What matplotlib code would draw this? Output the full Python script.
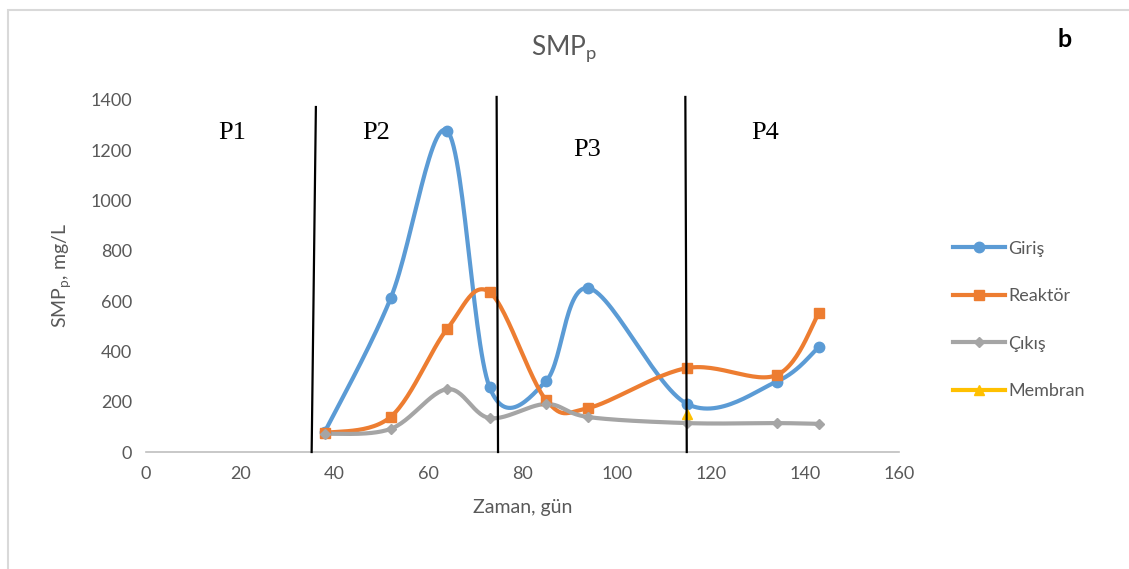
import numpy as np
import matplotlib.pyplot as plt
from matplotlib.patches import Rectangle

plt.rcParams['font.family'] = ['Lato', 'DejaVu Sans']

# Data (days, SMPp in mg/L)
gun = [38, 52, 64, 73, 85, 94, 115, 134, 143]
giris = [80, 612, 1277, 258, 282, 652, 191, 280, 418]
reaktor = [75, 140, 490, 636, 207, 175, 334, 306, 553]
cikis = [72, 92, 250, 135, 191, 139, 115, 115, 112]
membran_gun = [115]
membran = [150]

# Period boundaries (top x, bottom x, top y) and labels
sinir_ust = [36.1, 74.5, 114.6]
sinir_alt = [35.2, 74.8, 114.9]
sinir_y = [1372, 1412, 1412]
donemler = ['P1', 'P2', 'P3', 'P4']
donem_x = [18.3, 49.0, 93.7, 131.5]
donem_y = [1270, 1270, 1200, 1270]


def smooth(x, y, n=30):
    # Bezier smoothing through every point, like spreadsheet "smoothed line"
    x = np.asarray(x, float)
    y = np.asarray(y, float)
    px = np.concatenate([[x[0]], x, [x[-1]]])
    py = np.concatenate([[y[0]], y, [y[-1]]])
    xs, ys = [], []
    t = np.linspace(0, 1, n)
    for i in range(1, len(px) - 2):
        p0 = np.array([px[i], py[i]])
        p3 = np.array([px[i + 1], py[i + 1]])
        c1 = p0 + (np.array([px[i + 1], py[i + 1]]) - np.array([px[i - 1], py[i - 1]])) / 6
        c2 = p3 - (np.array([px[i + 2], py[i + 2]]) - np.array([px[i], py[i]])) / 6
        b = ((1 - t) ** 3)[:, None] * p0 + (3 * (1 - t) ** 2 * t)[:, None] * c1 \
            + (3 * (1 - t) * t ** 2)[:, None] * c2 + (t ** 3)[:, None] * p3
        xs.extend(b[:, 0])
        ys.extend(b[:, 1])
    return xs, ys


fig = plt.figure(figsize=(11.29, 5.69), dpi=100)
fig.patches.append(Rectangle((0.007, -0.02), 1.02, 1.002, transform=fig.transFigure,
                             fill=False, edgecolor='#d9d9d9', lw=1.5))
ax = fig.add_axes([0.1293, 0.2056, 0.667, 0.6187])

seriler = [
    ('Giriş', gun, giris, '#5b9bd5', 'o', 7.5),
    ('Reaktör', gun, reaktor, '#ed7d31', 's', 7),
    ('Çıkış', gun, cikis, '#a5a5a5', 'D', 5),
    ('Membran', membran_gun, membran, '#ffc000', '^', 7),
]
for ad, x, y, renk, mk, ms in seriler:
    sx, sy = smooth(x, y)
    ax.plot(sx, sy, color=renk, lw=3, solid_capstyle='round', zorder=3)
    ax.plot(x, y, ls='none', marker=mk, color=renk, ms=ms, zorder=4)
    ax.plot([], [], color=renk, lw=3, marker=mk, ms=ms, label=ad)

for xu, xa, yu in zip(sinir_ust, sinir_alt, sinir_y):
    ax.plot([xu, xa], [yu, 0], color='black', lw=1.6, zorder=5, clip_on=False)

for ad, x, y in zip(donemler, donem_x, donem_y):
    ax.text(x, y, ad, family='Liberation Serif', fontsize=19, ha='center', va='center')

ax.set_xlim(0, 160)
ax.set_ylim(0, 1400)
ax.set_xticks(range(0, 161, 20))
ax.set_yticks(range(0, 1401, 200))
for s in ['top', 'right', 'left']:
    ax.spines[s].set_visible(False)
ax.spines['bottom'].set_color('#bfbfbf')
ax.spines['bottom'].set_linewidth(1.2)
ax.tick_params(length=0, labelsize=13, colors='#595959', pad=10)

ax.set_xlabel('Zaman, gün', fontsize=14, color='#595959', labelpad=12)
ax.set_ylabel('SMP$_\\mathregular{p}$, mg/L', fontsize=14, color='#595959', labelpad=12)
fig.text(0.5, 0.915, 'SMP$_\\mathregular{p}$', fontsize=19, color='#595959', ha='center', va='center')
fig.text(0.943, 0.93, 'b', fontsize=18, color='black', fontweight='bold', ha='center', va='center')

ax.legend(loc='center left', bbox_to_anchor=(1.05, 0.375), frameon=False, fontsize=13,
          handlelength=2.9, labelspacing=1.75, handletextpad=0.15, numpoints=1,
          labelcolor='#595959')

fig.savefig('out.png', dpi=100)
